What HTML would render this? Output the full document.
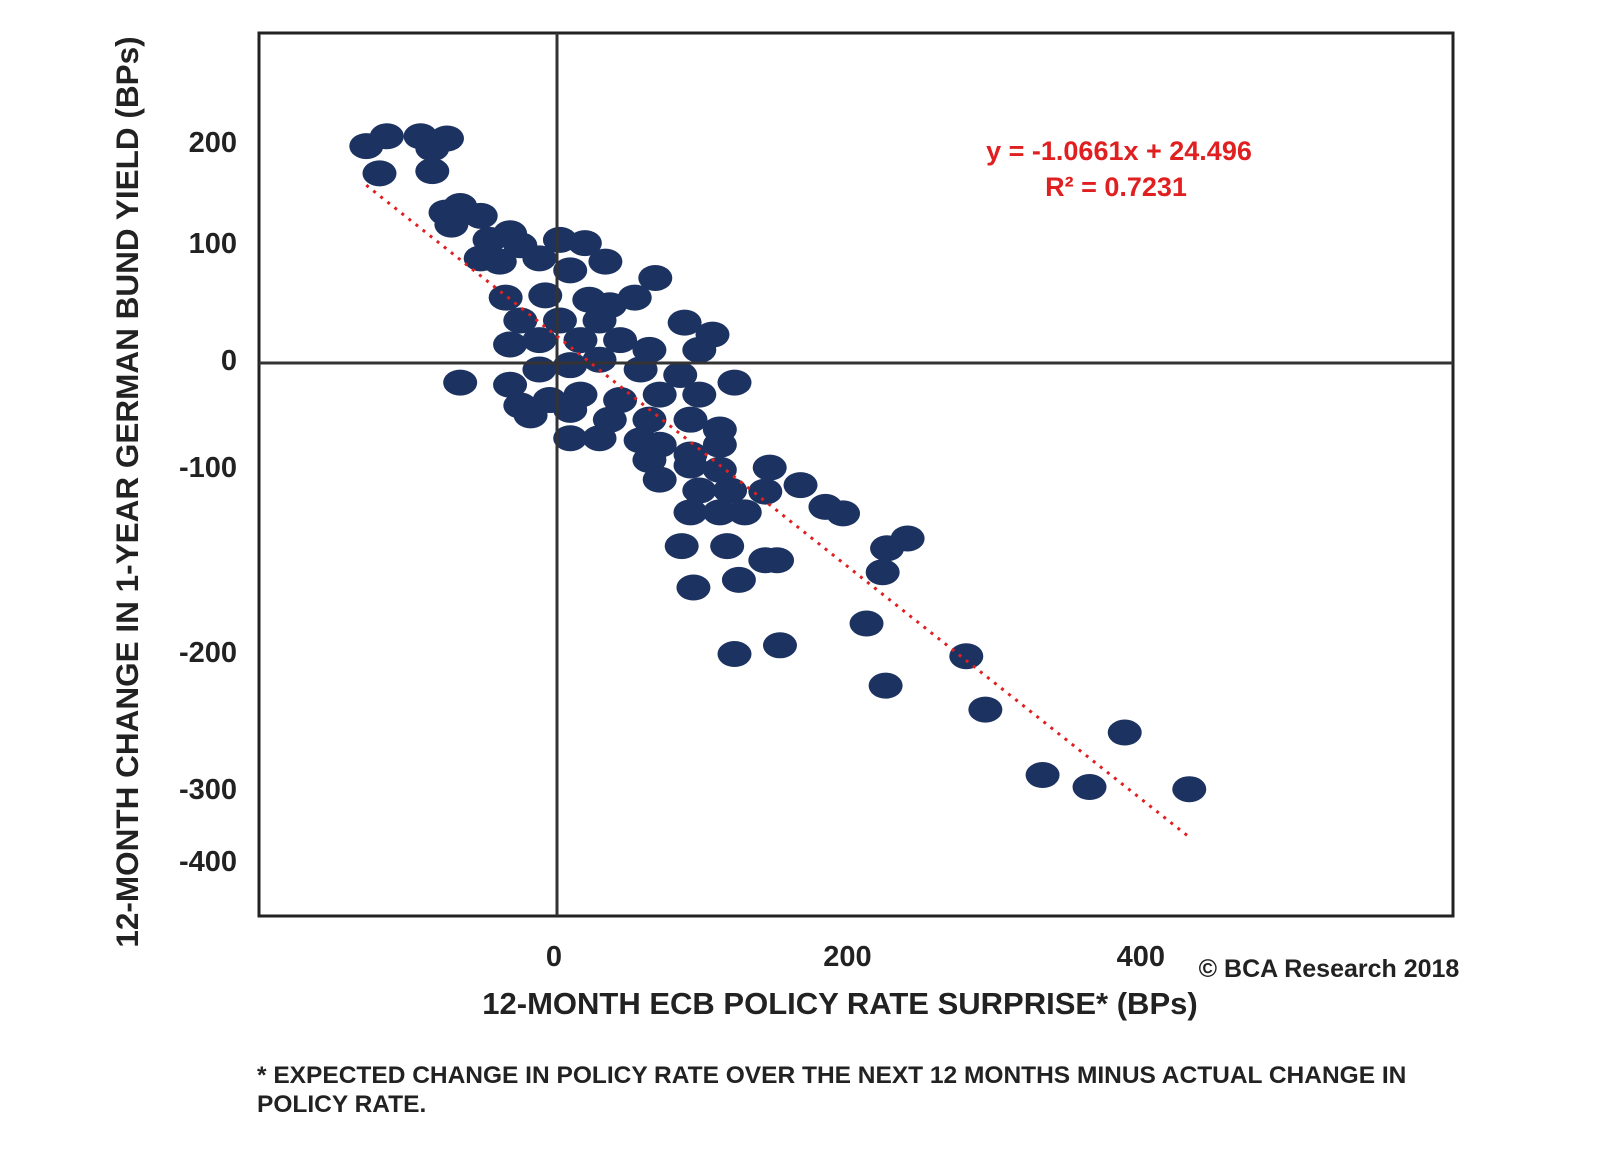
<!DOCTYPE html>
<html><head><meta charset="utf-8"><style>
body{margin:0;background:#fff}
svg text{font-family:"Liberation Sans",sans-serif;font-weight:bold}
</style></head><body>
<svg width="1600" height="1150" viewBox="0 0 1600 1150">
<g id="dots"></g>
<rect x="259" y="33" width="1194" height="883" fill="none" stroke="#222" stroke-width="3"/>
<line id="xzero" stroke="#333" stroke-width="3"/>
<line id="yzero" stroke="#333" stroke-width="3"/>
<line id="trend" stroke="#e02020" stroke-width="3" stroke-dasharray="3,6"/>
<g id="ticks"></g>
<text x="1119" y="160" fill="#e02020" font-size="27" text-anchor="middle">y = -1.0661x + 24.496</text>
<text x="1116" y="196" fill="#e02020" font-size="27" text-anchor="middle">R² = 0.7231</text>
<text x="1329" y="977" fill="#222" font-size="25" text-anchor="middle">© BCA Research 2018</text>
<text x="840" y="1014" fill="#222" font-size="31" text-anchor="middle">12-MONTH ECB POLICY RATE SURPRISE* (BPs)</text>
<text transform="translate(138,492) rotate(-90)" fill="#222" font-size="31.5" text-anchor="middle">12-MONTH CHANGE IN 1-YEAR GERMAN BUND YIELD (BPs)</text>
<text x="257" y="1083" fill="#222" font-size="24.5">* EXPECTED CHANGE IN POLICY RATE OVER THE NEXT 12 MONTHS MINUS ACTUAL CHANGE IN</text>
<text x="257" y="1112" fill="#222" font-size="24.5">POLICY RATE.</text>
</svg>
<script>
const xTicks=[0,200,400];
const yTickLabels=["200","100","0","-100","-200","-300","-400"];
const yTickPos=[141,242,359,466,651,788,860]; // label reference positions as drawn in source
const slope=-1.0661, intercept=24.496, trendX=[-130,430];
const px=[367,387,420,447,432,380,432,445,460,480,452,490,510,520,480,500,560,585,605,570,540,655,505,545,590,635,610,520,560,600,685,712,510,540,580,620,650,700,460,510,540,570,600,640,680,735,520,550,580,620,660,700,530,570,610,650,690,570,600,640,660,720,690,720,650,660,690,720,700,730,770,800,765,690,720,745,825,843,682,727,765,777,887,908,882,694,739,735,780,867,885,966,985,1125,1042,1090,1190];
const py=[146,136,136,138,148,173,171,213,206,216,225,240,233,245,258,262,240,243,262,270,258,278,298,295,300,298,305,320,320,320,323,335,345,340,340,340,350,350,383,385,370,365,360,370,375,383,405,400,395,400,395,395,415,410,420,420,420,438,438,440,445,430,455,445,460,480,465,470,490,490,468,485,492,512,512,512,507,513,546,546,560,560,548,538,572,587,580,654,645,624,686,656,710,732,775,787,789];
const xData=px.map(v=>Math.round((v-557)/1.467));
const yData=py.map(v=>Math.round((363-v)/1.09));
const X=v=>557+v*1.467, Y=v=>363-v*1.09;
const ns="http://www.w3.org/2000/svg";
const dots=document.getElementById('dots');
for(let i=0;i<xData.length;i++){const e=document.createElementNS(ns,'ellipse');
e.setAttribute('cx',X(xData[i]));e.setAttribute('cy',Y(yData[i]));e.setAttribute('rx',17);e.setAttribute('ry',13);e.setAttribute('fill','#1c3260');


dots.appendChild(e);}
const xz=document.getElementById('xzero');xz.setAttribute('x1',X(0));xz.setAttribute('x2',X(0));xz.setAttribute('y1',33);xz.setAttribute('y2',916);
const yz=document.getElementById('yzero');yz.setAttribute('x1',259);yz.setAttribute('x2',1453);yz.setAttribute('y1',Y(0));yz.setAttribute('y2',Y(0));
const t=document.getElementById('trend');t.setAttribute('x1',X(trendX[0]));t.setAttribute('y1',Y(slope*trendX[0]+intercept));t.setAttribute('x2',X(trendX[1]));t.setAttribute('y2',Y(slope*trendX[1]+intercept));
const tk=document.getElementById('ticks');
xTicks.forEach(v=>{const e=document.createElementNS(ns,'text');e.setAttribute('x',X(v)-3);e.setAttribute('y',966);e.setAttribute('text-anchor','middle');e.setAttribute('font-size','29');e.setAttribute('fill','#222');e.textContent=v;


tk.appendChild(e);});
yTickLabels.forEach((l,i)=>{const e=document.createElementNS(ns,'text');e.setAttribute('x',237);e.setAttribute('y',yTickPos[i]+11);e.setAttribute('text-anchor','end');e.setAttribute('font-size','29');e.setAttribute('fill','#222');e.textContent=l;


tk.appendChild(e);});
</script>
</body></html>
